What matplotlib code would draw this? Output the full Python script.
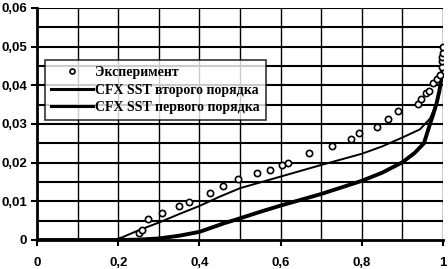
import matplotlib
matplotlib.use("Agg")
import matplotlib.pyplot as plt
import numpy as np

# Experimental data
exp_x = [0.251, 0.259, 0.273, 0.308, 0.350, 0.374, 0.426, 0.458, 0.495, 0.542, 0.575,
         0.603, 0.617, 0.671, 0.727, 0.773, 0.794, 0.837, 0.865, 0.888, 0.938, 0.947,
         0.957, 0.966, 0.976, 0.985, 0.993, 0.997, 0.997, 0.997, 0.999, 1.0]
exp_y = [0.0018, 0.0026, 0.0054, 0.0070, 0.0088, 0.0098, 0.0121, 0.0140, 0.0158, 0.0173, 0.0182,
         0.0193, 0.0199, 0.0224, 0.0243, 0.0261, 0.0276, 0.0293, 0.0313, 0.0333, 0.0351, 0.0365,
         0.0381, 0.0385, 0.0405, 0.0416, 0.0428, 0.0448, 0.0463, 0.0474, 0.0484, 0.0498]

# CFX SST second order (thick)
s2_x = [0.0, 0.2, 0.25, 0.30, 0.35, 0.40, 0.46, 0.50, 0.55, 0.60, 0.65, 0.70, 0.75, 0.80,
        0.85, 0.90, 0.93, 0.953, 0.968, 0.976, 0.984, 0.991, 0.997, 1.0]
s2_y = [0.0, 0.0, 0.0001, 0.0004, 0.0011, 0.0021, 0.0043, 0.0056, 0.0073, 0.0089, 0.0104,
        0.0119, 0.0136, 0.0153, 0.0174, 0.0201, 0.0225, 0.0250, 0.0300, 0.0325, 0.0353,
        0.0385, 0.0425, 0.0462]

# CFX SST first order (thin)
s1_x = [0.0, 0.19, 0.21, 0.25, 0.30, 0.35, 0.40, 0.45, 0.50, 0.60, 0.70, 0.80,
        0.85, 0.90, 0.943, 0.968, 0.984, 0.993, 0.998, 1.0]
s1_y = [0.0, 0.0, 0.0007, 0.0025, 0.0045, 0.0067, 0.0088, 0.0112, 0.0134, 0.0164, 0.0194,
        0.0223, 0.0242, 0.0265, 0.0286, 0.0314, 0.0353, 0.0395, 0.0430, 0.0462]

xticks = [0, 0.2, 0.4, 0.6, 0.8, 1.0]
xtick_labels = ["0", "0,2", "0,4", "0,6", "0,8", "1"]
yticks = [0, 0.01, 0.02, 0.03, 0.04, 0.05, 0.06]
ytick_labels = ["0", "0,01", "0,02", "0,03", "0,04", "0,05", "0,06"]
legend_labels = ["Эксперимент", "CFX SST второго порядка", "CFX SST первого порядка"]

fig = plt.figure(figsize=(4.48, 2.69), dpi=100)
ax = fig.add_axes([37/448, 1 - 240/269, 406/448, 232/269])
ax.set_xlim(0, 1)
ax.set_ylim(0, 0.06)

for gx in np.arange(0.1, 1.01, 0.1):
    ax.axvline(gx, color="black", lw=1.0, zorder=1)
for gy in np.arange(0.005, 0.0601, 0.005):
    ax.axhline(gy, color="black", lw=1.5, zorder=1)

l_exp, = ax.plot(exp_x, exp_y, "o", mfc="white", mec="black", ms=4.5, mew=1.2, zorder=4,
                 label=legend_labels[0])
l2, = ax.plot(s2_x, s2_y, color="black", lw=2.8, zorder=3, label=legend_labels[1])
l1, = ax.plot(s1_x, s1_y, color="black", lw=1.4, zorder=3, label=legend_labels[2])

for sp in ["top", "right"]:
    ax.spines[sp].set_visible(False)
ax.spines["left"].set_linewidth(2)
ax.spines["bottom"].set_linewidth(2)

ax.set_xticks(xticks)
ax.set_xticklabels(xtick_labels)
ax.set_yticks(yticks)
ax.set_yticklabels(ytick_labels)
ax.tick_params(length=4, width=1.5, direction="out")
ax.tick_params(axis="x", pad=8)
ax.tick_params(axis="y", pad=3)
for lab in ax.get_xticklabels() + ax.get_yticklabels():
    lab.set_fontfamily("Liberation Sans")
    lab.set_fontweight("bold")
    lab.set_fontsize(9.5)

leg = ax.legend(handles=[l_exp, l2, l1], loc="upper left",
                bbox_to_anchor=(8/406, (240-60)/232), frameon=True, fancybox=False,
                prop={"family": "Liberation Serif", "size": 10, "weight": "bold"},
                handlelength=3.0, markerscale=0.8,
                borderpad=0.45, labelspacing=0.32, handletextpad=0.15, borderaxespad=0)
leg.get_frame().set_edgecolor("black")
leg.get_frame().set_linewidth(1.2)
leg.set_zorder(5)
for h in leg.legend_handles[1:]:
    h.set_linewidth(2.2)

fig.savefig("out.png", dpi=100)
